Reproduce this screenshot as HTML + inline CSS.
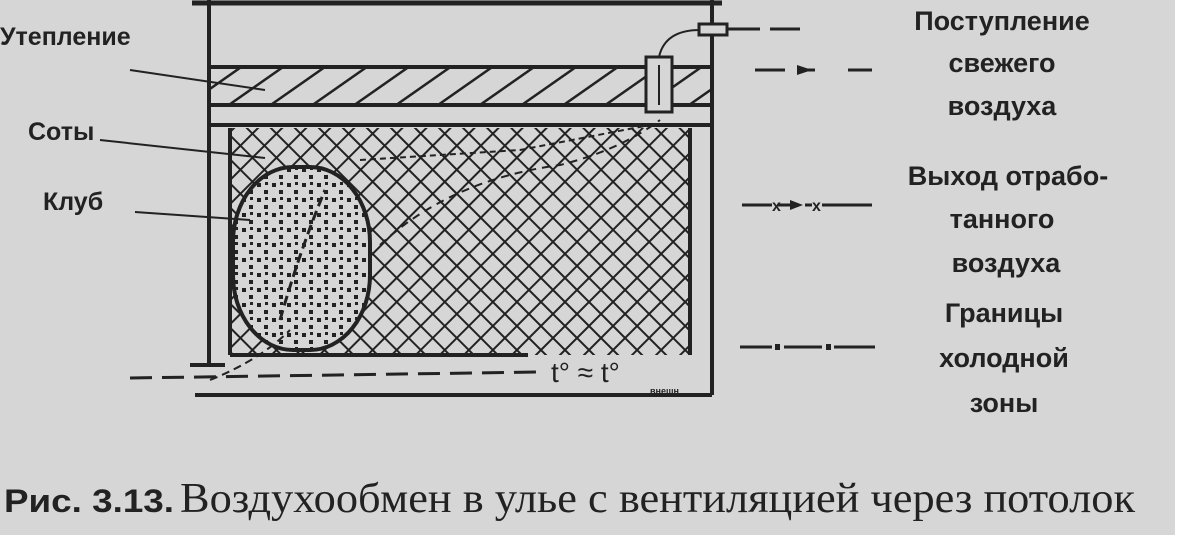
<!DOCTYPE html>
<html><head><meta charset="utf-8"><style>
html,body{margin:0;padding:0;background:#fff}
svg{display:block}
.lab{font-family:"Liberation Sans",sans-serif;font-weight:bold;fill:#222}
</style></head><body>
<svg width="1201" height="544" viewBox="0 0 1201 544" xmlns="http://www.w3.org/2000/svg">
<defs>
<pattern id="hatch" width="24" height="24" patternUnits="userSpaceOnUse" patternTransform="rotate(55)">
<line x1="0" y1="0" x2="0" y2="24" stroke="#222" stroke-width="5"/>
</pattern>
<pattern id="cross" width="17" height="17" patternUnits="userSpaceOnUse" patternTransform="rotate(45)">
<line x1="0" y1="0" x2="0" y2="17" stroke="#222" stroke-width="4"/>
<line x1="0" y1="0" x2="17" y2="0" stroke="#222" stroke-width="4"/>
</pattern>
<pattern id="dots" width="15" height="15" patternUnits="userSpaceOnUse">
<rect x="2" y="3" width="4" height="4" fill="#222"/><rect x="9" y="10" width="4" height="4" fill="#222"/><rect x="10" y="2" width="3" height="3" fill="#222"/>
</pattern>
</defs>
<rect width="1201" height="544" fill="#fff"/>
<rect width="1175" height="535" fill="#d6d6d6"/>
<line x1="192" y1="3" x2="722" y2="3" stroke="#222" stroke-width="5"/>
<line x1="209" y1="0" x2="209" y2="365" stroke="#222" stroke-width="4"/>
<line x1="712" y1="0" x2="712" y2="395" stroke="#222" stroke-width="4"/>
<rect x="209" y="67" width="503" height="38" fill="url(#hatch)" stroke="#222" stroke-width="4"/>
<line x1="209" y1="125" x2="712" y2="125" stroke="#222" stroke-width="4"/>
<rect x="646" y="57" width="26" height="55" fill="#d6d6d6" stroke="#222" stroke-width="3"/>
<line x1="659" y1="65" x2="659" y2="105" stroke="#222" stroke-width="2"/>
<rect x="699" y="24" width="28" height="11" fill="#d6d6d6" stroke="#222" stroke-width="3"/>
<path d="M659 57 Q665 30 700 30" fill="none" stroke="#222" stroke-width="2"/>
<path d="M727 29 L760 29 M770 29 L800 29" stroke="#222" stroke-width="3" fill="none"/>
<rect x="230" y="128" width="460" height="227" fill="url(#cross)"/>
<line x1="230" y1="128" x2="230" y2="355" stroke="#222" stroke-width="4"/>
<line x1="690" y1="128" x2="690" y2="355" stroke="#222" stroke-width="4"/>
<line x1="230" y1="355" x2="528" y2="355" stroke="#222" stroke-width="4"/>
<rect x="233" y="167" width="137" height="183" rx="60" ry="75" fill="#d6d6d6" stroke="#222" stroke-width="4"/>
<rect x="233" y="167" width="137" height="183" rx="60" ry="75" fill="url(#dots)"/>
<path d="M280 320 Q300 250 325 190" fill="none" stroke="#222" stroke-width="3" stroke-dasharray="10 5"/>
<path d="M380 245 Q450 180 560 165 Q620 150 660 120" fill="none" stroke="#222" stroke-width="2" stroke-dasharray="8 6"/>
<path d="M360 160 L520 150 L650 125" fill="none" stroke="#222" stroke-width="2" stroke-dasharray="6 4"/>
<line x1="190" y1="365" x2="225" y2="365" stroke="#222" stroke-width="4"/>
<path d="M130 378 L540 372" stroke="#222" stroke-width="3" stroke-dasharray="22 10" fill="none"/>
<path d="M210 380 Q260 360 290 330" stroke="#222" stroke-width="2" stroke-dasharray="8 5" fill="none"/>
<line x1="195" y1="395" x2="712" y2="395" stroke="#222" stroke-width="4"/>
<text x="551" y="382" class="lab" style="font-weight:normal" font-size="28">t° ≈ t°</text>
<text x="650" y="394" class="lab" font-size="9">внешн</text>
<text x="0" y="45" class="lab" font-size="25">Утепление</text>
<text x="28" y="140" class="lab" font-size="25">Соты</text>
<text x="43" y="210" class="lab" font-size="25">Клуб</text>
<line x1="130" y1="70" x2="265" y2="90" stroke="#222" stroke-width="2"/>
<line x1="100" y1="140" x2="265" y2="158" stroke="#222" stroke-width="2"/>
<line x1="135" y1="212" x2="250" y2="220" stroke="#222" stroke-width="2"/>
<g class="lab" font-size="27" text-anchor="middle">
<text x="1002" y="30">Поступление</text>
<text x="1002" y="72">свежего</text>
<text x="1002" y="115">воздуха</text>
<text x="1008" y="185">Выход отрабо-</text>
<text x="1002" y="228">танного</text>
<text x="1006" y="272">воздуха</text>
<text x="1004" y="322">Границы</text>
<text x="1004" y="367">холодной</text>
<text x="1004" y="412">зоны</text>
</g>
<path d="M755 70 L785 70 M800 70 L815 70 M848 70 L872 70" stroke="#222" stroke-width="3"/>
<path d="M797 65 L812 70 L797 75 Z" fill="#222"/>
<path d="M742 205 L772 205 M778 205 L790 205 M805 205 L812 205 M822 205 L872 205" stroke="#222" stroke-width="3"/>
<text x="772" y="211" class="lab" font-size="16">x</text><text x="812" y="211" class="lab" font-size="16">x</text>
<path d="M790 200 L803 205 L790 210 Z" fill="#222"/>
<path d="M740 347 L772 347 M784 347 L822 347 M834 347 L875 347" stroke="#222" stroke-width="3"/>
<rect x="775" y="344" width="5" height="6" fill="#222"/><rect x="826" y="344" width="5" height="6" fill="#222"/>
<text x="4" y="512" font-family="'Liberation Sans',sans-serif" font-weight="bold" font-size="32" fill="#222" textLength="170" lengthAdjust="spacingAndGlyphs">Рис. 3.13.</text>
<text x="180" y="512" font-family="'Liberation Serif',serif" font-size="42" fill="#222" textLength="955" lengthAdjust="spacingAndGlyphs">Воздухообмен в улье с вентиляцией через потолок</text>
</svg>
</body></html>
